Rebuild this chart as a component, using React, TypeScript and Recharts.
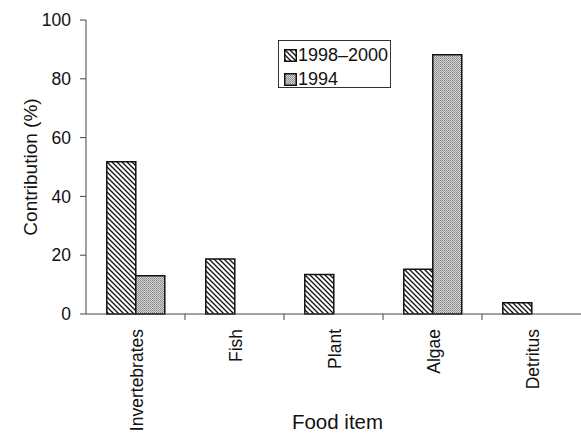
import React from 'react';
import { BarChart, Bar, XAxis, YAxis, Legend } from 'recharts';

const categories = ['Invertebrates', 'Fish', 'Plant', 'Algae', 'Detritus'];
const series1998 = [51.8, 18.7, 13.4, 15.2, 3.8];
const series1994 = [13.0, 0, 0, 88.2, 0];
const yTicks = [0, 20, 40, 60, 80, 100];
const seriesNames = ['1998\u20132000', '1994'];

const data = categories.map((c, i) => ({ name: c, a: series1998[i], b: series1994[i] }));

const W = 581;
const H = 433;
const LEFT = 86;
const FONT = '"Liberation Sans", Arial, Helvetica, sans-serif';
const BAND = (W - LEFT) / categories.length;
const INK = '#111';

const XTick = (props: any) => {
  const { x, y, payload, index } = props;
  return (
    <g transform={`translate(${x},${y})`}>
      {index < categories.length - 1 && (
        <line x1={BAND / 2} y1={0} x2={BAND / 2} y2={6} stroke="#444" strokeWidth={1} />
      )}
      <text
        transform="rotate(-90)"
        x={-15}
        y={7}
        textAnchor="end"
        fontSize={17.5}
        fontFamily={FONT}
        fill={INK}
      >
        {payload.value}
      </text>
    </g>
  );
};

const rowStyle: React.CSSProperties = { display: 'flex', alignItems: 'center', height: 24 };

const LegendBox = () => (
  <div
    style={{
      boxSizing: 'border-box',
      border: '1px solid #333',
      background: '#fff',
      paddingTop: 2,
      paddingLeft: 5,
      fontFamily: FONT,
      fontSize: 18,
      color: INK,
      width: 113,
      height: 48,
      lineHeight: '20px',
    }}
  >
    <div style={rowStyle}>
      <svg width={13} height={13} style={{ marginRight: 1 }}>
        <rect x={0.75} y={0.75} width={11.5} height={11.5} fill="url(#hatch)" stroke="#111" strokeWidth={1.5} />
      </svg>
      {seriesNames[0]}
    </div>
    <div style={rowStyle}>
      <svg width={13} height={13} style={{ marginRight: 1 }}>
        <rect x={0.75} y={0.75} width={11.5} height={11.5} fill="url(#stipple)" stroke="#111" strokeWidth={1.5} />
      </svg>
      {seriesNames[1]}
    </div>
  </div>
);

export default function App() {
  return (
    <div style={{ position: 'absolute', left: 0, top: 0, background: '#fff' }}>
      <BarChart
        width={W}
        height={H}
        data={data}
        margin={{ top: 20, right: 0, bottom: 0, left: 0 }}
        barCategoryGap="21%"
        barGap={0}
      >
        <defs>
          <pattern id="hatch" patternUnits="userSpaceOnUse" width={5} height={5}>
            <rect width={5} height={5} fill="#fff" />
            <path d="M-1,-1 L6,6 M-1,4 L1,6 M4,-1 L6,1" stroke="#111" strokeWidth={1.3} />
          </pattern>
          <pattern id="stipple" patternUnits="userSpaceOnUse" width={2} height={2}>
            <rect width={2} height={2} fill="#d6d6d6" />
            <rect x={0} y={0} width={1} height={1} fill="#858585" />
            <rect x={1} y={1} width={1} height={1} fill="#999" />
          </pattern>
        </defs>
        <XAxis
          dataKey="name"
          height={119}
          interval={0}
          tickLine={false}
          tickSize={0}
          tickMargin={0}
          stroke="#444"
          tick={<XTick />}
          label={{
            value: 'Food item',
            position: 'insideBottom',
            offset: 4,
            dx: 4,
            fontSize: 20.5,
            fontFamily: FONT,
            fill: INK,
          }}
        />
        <YAxis
          width={LEFT}
          domain={[0, 100]}
          ticks={yTicks}
          interval={0}
          tickSize={6}
          tickMargin={9}
          stroke="#444"
          tick={{ fontSize: 17.5, fontFamily: FONT, fill: INK }}
          label={{
            content: (p: any) => {
              const vb = p.viewBox;
              const cx = 30;
              const cy = vb.y + vb.height / 2;
              return (
                <text
                  x={cx}
                  y={cy}
                  transform={`rotate(-90 ${cx} ${cy})`}
                  textAnchor="middle"
                  dominantBaseline="central"
                  fontSize={19}
                  fontFamily={FONT}
                  fill={INK}
                >
                  Contribution (%)
                </text>
              );
            },
          }}
        />
        <Legend
          layout="horizontal"
          verticalAlign="middle"
          align="center"
          content={<LegendBox />}
          wrapperStyle={{ position: 'absolute', left: 278, top: 40, width: 'auto', height: 'auto' }}
        />
        <Bar dataKey="a" name={seriesNames[0]} fill="url(#hatch)" stroke="#111" strokeWidth={1.5} isAnimationActive={false} />
        <Bar dataKey="b" name={seriesNames[1]} fill="url(#stipple)" stroke="#111" strokeWidth={1.5} isAnimationActive={false} />
      </BarChart>
    </div>
  );
}
